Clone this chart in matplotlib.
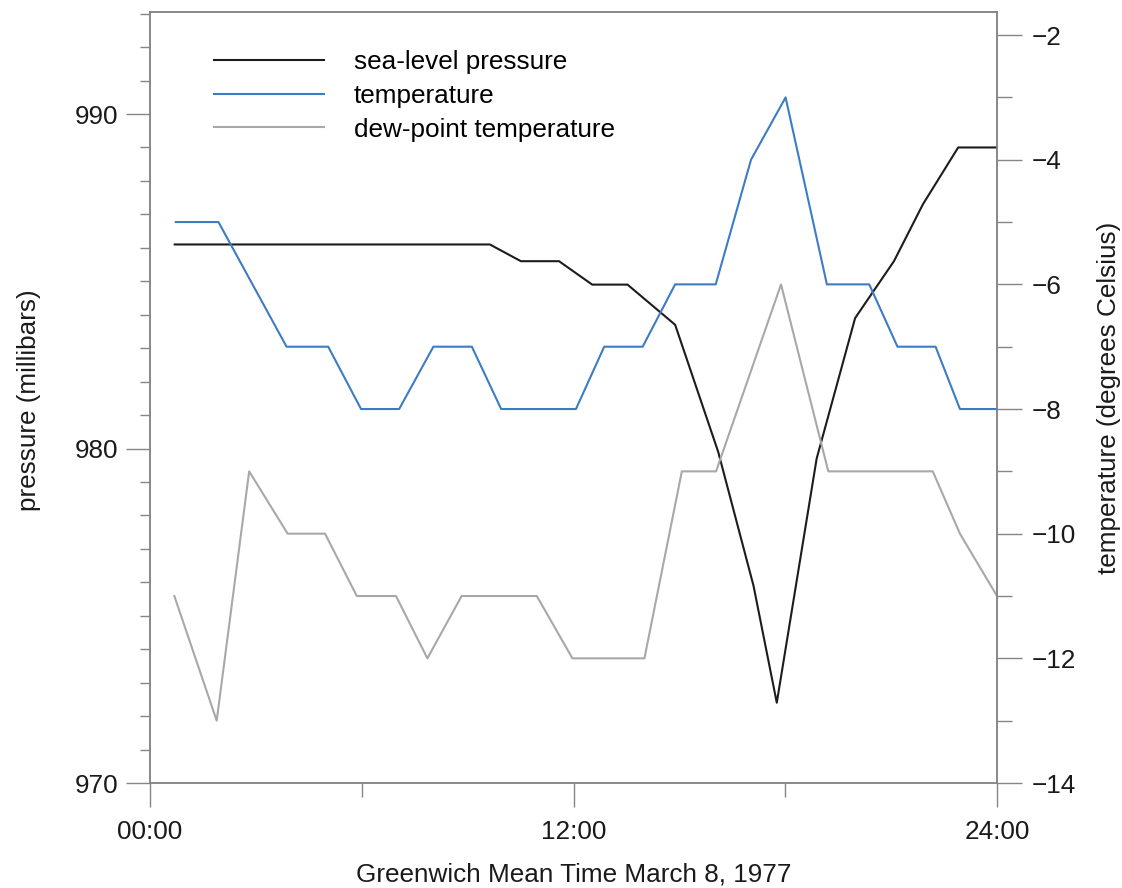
import matplotlib
matplotlib.use("Agg")
import matplotlib.pyplot as plt
from matplotlib.ticker import MultipleLocator, FixedLocator

plt.rcParams['font.family'] = ['Liberation Sans', 'DejaVu Sans']

# hourly-ish station observations, March 8 1977 (time in hours GMT)
slp_hours = [0.7, 9.63, 10.51, 11.59, 12.53, 13.53, 14.88, 16.1, 17.1, 17.76,
             18.89, 19.98, 21.08, 21.9, 22.9, 24.0]
slp = [986.1, 986.1, 985.6, 985.6, 984.9, 984.9, 983.7, 979.9, 975.9, 972.4,
       979.7, 983.9, 985.6, 987.3, 989.0, 989.0]

temp_hours = [0.73, 1.94, 3.87, 5.05, 5.98, 7.06, 8.03, 9.12, 9.95, 12.07,
              12.87, 13.96, 14.88, 16.03, 17.03, 18.01, 19.18, 20.38, 21.18,
              22.26, 22.95, 24.0]
temp = [-5, -5, -7, -7, -8, -8, -7, -7, -8, -8,
        -7, -7, -6, -6, -4, -3, -6, -6, -7,
        -7, -8, -8]

dew_hours = [0.69, 1.89, 2.81, 3.90, 4.96, 5.86, 6.97, 7.86, 8.83, 10.96,
             11.97, 14.01, 15.07, 16.04, 17.88, 19.22, 22.18, 22.95, 24.0]
dew = [-11, -13, -9, -10, -10, -11, -11, -12, -11, -11,
       -12, -12, -9, -9, -6, -9, -9, -10, -11]

time_ticks = [0, 12, 24]
time_labels = ['00:00', '12:00', '24:00']

axis_grey = '#858585'
text_col = '#1a1a1a'
fs = 18.8

fig = plt.figure(figsize=(11.22, 8.88), dpi=100)
ax = fig.add_axes([150 / 1122, 1 - 783 / 888, 847 / 1122, 771 / 888])
ax2 = ax.twinx()

l1, = ax.plot(slp_hours, slp, color='#1c1c1c', lw=1.5, label='sea-level pressure', zorder=3)
l2, = ax2.plot(temp_hours, temp, color='#3d7cc4', lw=1.5, label='temperature')
l3, = ax2.plot(dew_hours, dew, color='#a8a8a8', lw=1.5, label='dew-point temperature')

ax.set_xlim(0, 24)
ax.set_ylim(970, 993.05)
ax2.set_ylim(-14, -1.63)

ax.xaxis.set_major_locator(FixedLocator(time_ticks))
ax.set_xticklabels(time_labels)
ax.xaxis.set_minor_locator(FixedLocator([6, 18]))
ax.yaxis.set_major_locator(MultipleLocator(10))
ax.yaxis.set_minor_locator(MultipleLocator(1))
ax2.yaxis.set_major_locator(MultipleLocator(2))
ax2.yaxis.set_minor_locator(MultipleLocator(1))

for a in (ax, ax2):
    for s in a.spines.values():
        s.set_color(axis_grey)
        s.set_linewidth(1.1)

ax.tick_params(axis='x', which='major', direction='out', length=17.3, width=1.0,
               color=axis_grey, pad=9, labelsize=fs, labelcolor=text_col)
ax.tick_params(axis='x', which='minor', direction='out', length=10, width=1.0, color=axis_grey)
ax.tick_params(axis='y', which='major', direction='out', length=17.3, width=1.0,
               color=axis_grey, pad=5.5, labelsize=fs, labelcolor=text_col)
ax.tick_params(axis='y', which='minor', direction='out', length=7.2, width=1.0, color=axis_grey)
ax2.tick_params(axis='y', which='major', direction='out', length=18, width=1.0,
                color=axis_grey, pad=7, labelsize=fs, labelcolor=text_col)
ax2.tick_params(axis='y', which='minor', direction='out', length=10.8, width=1.0, color=axis_grey)

ax.set_xlabel('Greenwich Mean Time March 8, 1977', fontsize=fs, color=text_col)
ax.xaxis.set_label_coords(0.5, -0.1025)
ax.set_ylabel('pressure (millibars)', fontsize=fs, color=text_col)
ax.yaxis.set_label_coords(-0.129, 0.497)
ax2.set_ylabel('temperature (degrees Celsius)', fontsize=fs, color=text_col)
ax2.yaxis.set_label_coords(1.118, 0.5)

ax2.legend(handles=[l1, l2, l3], loc='upper left', bbox_to_anchor=(0.0756, 0.951),
           frameon=False, fontsize=fs, handlelength=4.2, handletextpad=1.15,
           labelspacing=0.38, borderpad=0, borderaxespad=0)

fig.savefig('out.png', dpi=100)
